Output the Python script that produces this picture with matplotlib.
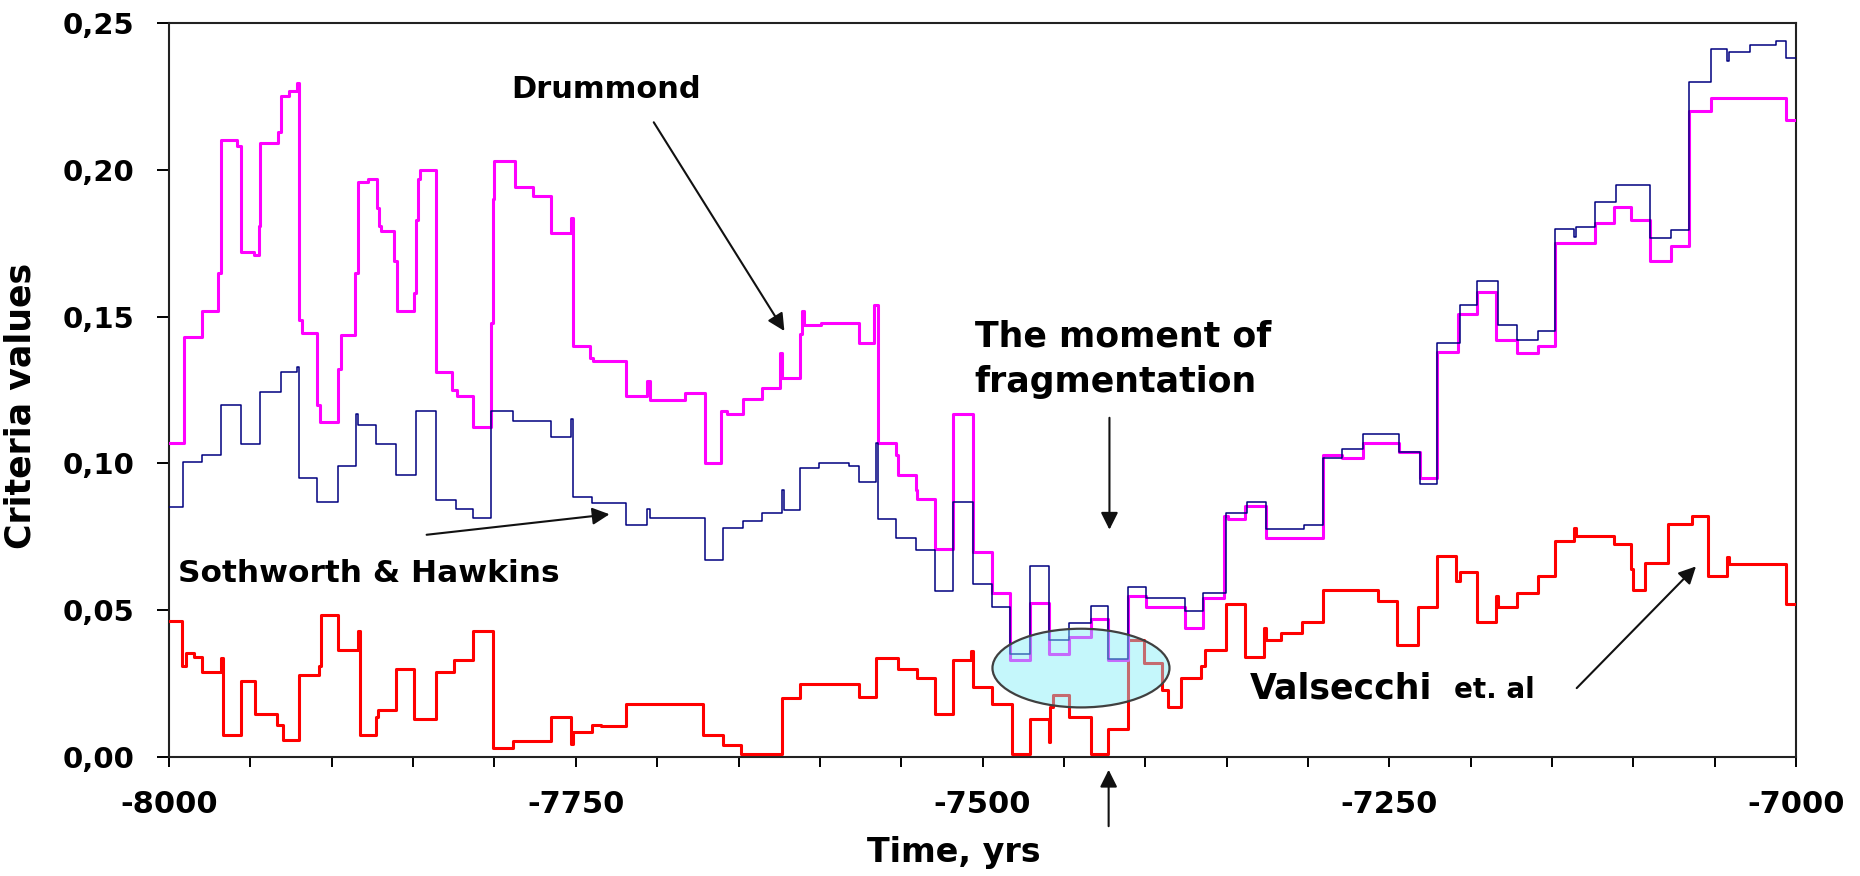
import matplotlib
matplotlib.use('Agg')
import matplotlib.pyplot as plt
from matplotlib.patches import Ellipse
from matplotlib.ticker import FuncFormatter, MultipleLocator

# step curves: time of each change (yrs) and the value held from it on
drummond_t = [-8000, -7991, -7980, -7970, -7968, -7958, -7956, -7948, -7945, -7944,
              -7933, -7931, -7926, -7921.5, -7920, -7918, -7909, -7907, -7896, -7894.5,
              -7886, -7884, -7878, -7872.5, -7871, -7869.5, -7861.5, -7860, -7849.5, -7848,
              -7847, -7846, -7836, -7826, -7823, -7813, -7802, -7801, -7800, -7787.5,
              -7776.5, -7765.5, -7753, -7752, -7741, -7739.5, -7718.9, -7706, -7704.4, -7682.6,
              -7670.5, -7660.8, -7657, -7647.5, -7635.4, -7624.5, -7623.3, -7612.5, -7611.2, -7610,
              -7599.2, -7576.2, -7566.5, -7564, -7553.2, -7552, -7541.1, -7540, -7529, -7518.1,
              -7506, -7494, -7483, -7471, -7458.9, -7446.8, -7433.5, -7422.6, -7410.5, -7399.6,
              -7375.5, -7364.6, -7351.4, -7349, -7338.5, -7325.6, -7290.6, -7279, -7266, -7244,
              -7231, -7220.8, -7207.8, -7196.2, -7184.5, -7171.6, -7158.6, -7148.3, -7123.7, -7112,
              -7101.7, -7090, -7077, -7065.5, -7052.5, -7006]
drummond_v = [0.107, 0.143, 0.152, 0.165, 0.210, 0.208, 0.172, 0.171, 0.181, 0.209,
              0.213, 0.225, 0.227, 0.2295, 0.149, 0.1445, 0.120, 0.114, 0.132, 0.1436,
              0.165, 0.196, 0.197, 0.187, 0.181, 0.179, 0.169, 0.152, 0.158, 0.183,
              0.197, 0.200, 0.131, 0.125, 0.123, 0.1125, 0.148, 0.190, 0.203, 0.194,
              0.191, 0.1785, 0.1835, 0.140, 0.136, 0.135, 0.123, 0.128, 0.1215, 0.124,
              0.100, 0.118, 0.117, 0.122, 0.1256, 0.1375, 0.129, 0.144, 0.152, 0.147,
              0.148, 0.141, 0.154, 0.107, 0.103, 0.096, 0.091, 0.088, 0.071, 0.117,
              0.070, 0.056, 0.033, 0.0525, 0.035, 0.041, 0.047, 0.033, 0.055, 0.051,
              0.044, 0.054, 0.082, 0.081, 0.0856, 0.0745, 0.103, 0.102, 0.107, 0.104,
              0.095, 0.138, 0.151, 0.1585, 0.142, 0.1375, 0.140, 0.175, 0.182, 0.1875,
              0.183, 0.169, 0.174, 0.220, 0.2244, 0.217]

hawkins_t = [-8000, -7991.7, -7980, -7968.3, -7956, -7943.9, -7931.2, -7921.5, -7920.2, -7909.3,
             -7895.9, -7884.9, -7883.7, -7872.7, -7860.5, -7848.3, -7836, -7823.9, -7812.9, -7802,
             -7788.5, -7765.4, -7753.2, -7752, -7739.8, -7718.9, -7706, -7704.4, -7670.5, -7659.6,
             -7647.5, -7635.4, -7623.3, -7622, -7612.5, -7600.4, -7582.2, -7576.2, -7565.3, -7564,
             -7553.2, -7541.1, -7529, -7518.1, -7506, -7494, -7483, -7471, -7458.9, -7446.8,
             -7433.5, -7422.6, -7410.5, -7399.6, -7375.5, -7364.6, -7350.2, -7337.2, -7325.6, -7302.3,
             -7290.6, -7279, -7266, -7244, -7231, -7220.8, -7206.5, -7196.2, -7183.2, -7171.6,
             -7158.6, -7148.3, -7136.6, -7135.4, -7123.7, -7110.8, -7090, -7077, -7065.5, -7052.5,
             -7042.2, -7040.9, -7028, -7012.4, -7006]
hawkins_v = [0.085, 0.1005, 0.103, 0.120, 0.1065, 0.1244, 0.131, 0.133, 0.095, 0.087,
             0.099, 0.117, 0.113, 0.1065, 0.096, 0.118, 0.0875, 0.0845, 0.0815, 0.118,
             0.1145, 0.109, 0.115, 0.0885, 0.0865, 0.079, 0.0845, 0.0815, 0.067, 0.078,
             0.0805, 0.083, 0.091, 0.084, 0.0985, 0.100, 0.099, 0.0936, 0.107, 0.081,
             0.0745, 0.0705, 0.0565, 0.087, 0.0588, 0.051, 0.035, 0.065, 0.040, 0.0455,
             0.0515, 0.0335, 0.058, 0.054, 0.0497, 0.056, 0.083, 0.087, 0.0776, 0.079,
             0.102, 0.105, 0.110, 0.104, 0.093, 0.141, 0.154, 0.162, 0.147, 0.142,
             0.145, 0.180, 0.177, 0.1807, 0.189, 0.195, 0.1767, 0.1795, 0.230, 0.241,
             0.237, 0.2403, 0.2426, 0.2438, 0.238]

valsecchi_t = [-8000, -7992.2, -7989.8, -7984.9, -7980, -7967.8, -7966.6, -7955.6, -7947.1, -7933.7,
               -7930, -7920.2, -7908, -7906.8, -7895.9, -7883.7, -7882.4, -7872.7, -7871.5, -7860.5,
               -7849.5, -7836, -7825, -7812.9, -7800.7, -7788.5, -7765.4, -7753.2, -7752, -7739.8,
               -7734.6, -7718.9, -7671.7, -7659.6, -7648.7, -7623.3, -7612.5, -7576.2, -7565.3, -7552,
               -7540, -7529, -7518.1, -7507.3, -7506, -7494, -7481.9, -7471, -7459.4, -7458.4,
               -7456.5, -7446.8, -7433.5, -7422.6, -7410.5, -7400.8, -7390, -7386.3, -7377.9, -7365.8,
               -7363.4, -7350.2, -7338.5, -7326.9, -7325.6, -7316.5, -7303.6, -7290.6, -7257, -7245.3,
               -7232.4, -7220.8, -7209.1, -7206.5, -7196.2, -7184.5, -7183.2, -7171.6, -7158.6, -7148.3,
               -7136.6, -7135.4, -7112, -7101.7, -7100.4, -7092.6, -7078.4, -7064.2, -7053.8, -7042.2,
               -7040.9, -7006]
valsecchi_v = [0.0462, 0.031, 0.0354, 0.034, 0.029, 0.0337, 0.0074, 0.026, 0.0148, 0.011,
               0.0057, 0.028, 0.031, 0.0485, 0.0365, 0.043, 0.0074, 0.0137, 0.016, 0.030,
               0.013, 0.029, 0.033, 0.043, 0.003, 0.0055, 0.0137, 0.0045, 0.0086, 0.011,
               0.0105, 0.018, 0.0074, 0.004, 0.001, 0.020, 0.025, 0.0205, 0.0337, 0.030,
               0.027, 0.0148, 0.033, 0.036, 0.024, 0.018, 0.001, 0.013, 0.005, 0.017,
               0.021, 0.0137, 0.0012, 0.0097, 0.040, 0.032, 0.0228, 0.017, 0.027, 0.031,
               0.0365, 0.052, 0.034, 0.044, 0.040, 0.0422, 0.046, 0.057, 0.053, 0.038,
               0.051, 0.0685, 0.060, 0.063, 0.046, 0.055, 0.051, 0.056, 0.0616, 0.0736,
               0.078, 0.0753, 0.0725, 0.064, 0.057, 0.066, 0.0793, 0.082, 0.0616, 0.068,
               0.0656, 0.052]

x_start, x_end = -8000, -7000
y_ticks = [0.00, 0.05, 0.10, 0.15, 0.20, 0.25]

fig = plt.figure(figsize=(18.6, 8.76), dpi=100)
ax = fig.add_axes([0.0909, 0.1358, 0.8747, 0.8379])


def held(t, v):
    return t + [x_end], v + [v[-1]]


ax.step(*held(valsecchi_t, valsecchi_v), where='post', color='#ff0000', lw=2.2, zorder=3)
ax.step(*held(drummond_t, drummond_v), where='post', color='#ff00ff', lw=2.2, zorder=4)
ax.step(*held(hawkins_t, hawkins_v), where='post', color='#000080', lw=1.1, zorder=5)

# highlighted region around the breakup
ax.add_patch(Ellipse((-7439.5, 0.0303), 108.8, 0.0268, facecolor='#80eef8', alpha=0.45,
                     edgecolor='none', zorder=6))
ax.add_patch(Ellipse((-7439.5, 0.0303), 108.8, 0.0268, facecolor='none',
                     edgecolor='#404040', lw=1.6, zorder=7))

ax.set_xlim(x_start, x_end)
ax.set_ylim(0, 0.25)
ax.set_yticks(y_ticks)
ax.yaxis.set_major_formatter(FuncFormatter(lambda v, p: f'{v:.2f}'.replace('.', ',')))
ax.xaxis.set_major_locator(MultipleLocator(50))
ax.xaxis.set_major_formatter(FuncFormatter(lambda v, p: f'{int(round(v))}' if round(v) % 250 == 0 else ''))

ax.tick_params(axis='y', direction='out', length=9, width=1.4, pad=16, labelsize=21)
ax.tick_params(axis='x', direction='out', length=7.5, width=1.4, pad=16, labelsize=22)
for lab in ax.get_xticklabels() + ax.get_yticklabels():
    lab.set_fontweight('bold')
for sp in ax.spines.values():
    sp.set_linewidth(1.5)
    sp.set_color('#222222')

ax.set_ylabel('Criteria values', fontsize=25, fontweight='bold')
ax.yaxis.set_label_coords(-0.081, 0.478)
ax.set_xlabel('Time, yrs', fontsize=24, fontweight='bold', va='top')
ax.xaxis.set_label_coords(0.4825, -0.108)

# labels and pointers for each criterion
ax.text(-7789.8, 0.2245, 'Drummond', fontsize=22, fontweight='bold', va='baseline')
ax.annotate('', xy=(-7620.9, 0.1443), xytext=(-7703, 0.217),
            arrowprops=dict(arrowstyle='-|>', color='#111111', lw=1.5, mutation_scale=26))

ax.text(-7994.6, 0.0596, 'Sothworth & Hawkins', fontsize=22.5, fontweight='bold', va='baseline')
ax.annotate('', xy=(-7727.6, 0.0828), xytext=(-7843.4, 0.0756),
            arrowprops=dict(arrowstyle='-|>', color='#111111', lw=1.5, mutation_scale=26))

ax.text(-7504.9, 0.1398, 'The moment of', fontsize=25, fontweight='bold', va='baseline')
ax.text(-7504.9, 0.1244, 'fragmentation', fontsize=25, fontweight='bold', va='baseline')
ax.annotate('', xy=(-7422, 0.0765), xytext=(-7422, 0.1165),
            arrowprops=dict(arrowstyle='-|>', color='#111111', lw=1.5, mutation_scale=26))
ax.annotate('', xy=(-7422.5, -0.0034), xytext=(-7422.5, -0.0245), annotation_clip=False,
            arrowprops=dict(arrowstyle='-|>', color='#111111', lw=1.5, mutation_scale=26))

ax.text(-7336, 0.020, 'Valsecchi', fontsize=25, fontweight='bold', va='baseline')
ax.text(-7210.4, 0.020, 'et. al', fontsize=20, fontweight='bold', va='baseline')
ax.annotate('', xy=(-7060.3, 0.0656), xytext=(-7136, 0.0228),
            arrowprops=dict(arrowstyle='-|>', color='#111111', lw=1.5, mutation_scale=26))

fig.savefig('out.png', dpi=100, facecolor='white')
